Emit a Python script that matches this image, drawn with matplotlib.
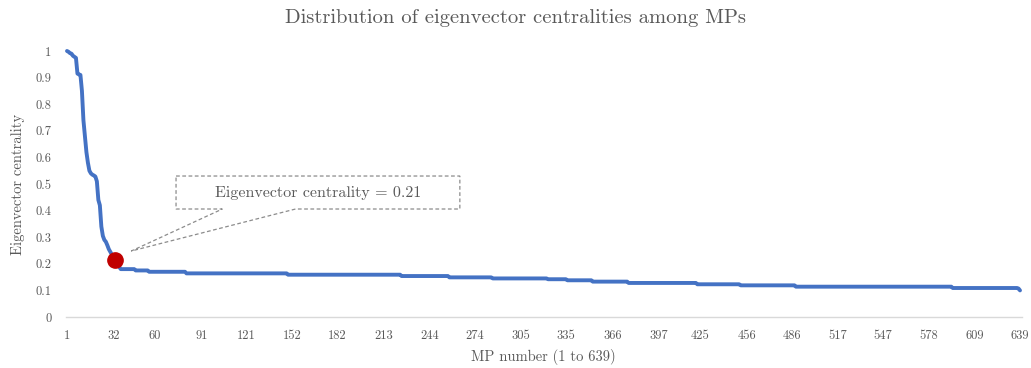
import matplotlib
matplotlib.use("Agg")
import matplotlib.pyplot as plt
import numpy as np
from matplotlib.patches import Polygon

# Eigenvector centrality of MPs sorted in descending order
top_values = [1.0, 0.997, 0.992, 0.99, 0.982, 0.978, 0.974, 0.915, 0.912, 0.91,
              0.85, 0.74, 0.68, 0.62, 0.58, 0.55, 0.54, 0.535, 0.532, 0.528,
              0.51, 0.44, 0.42, 0.34, 0.305, 0.29, 0.283, 0.27, 0.255, 0.245,
              0.235, 0.225, 0.214, 0.205, 0.195, 0.188]
# long flat tail: step levels and how many MPs sit on each step
tail_levels = [0.18, 0.175, 0.17, 0.164, 0.159, 0.154, 0.149, 0.145, 0.142,
               0.138, 0.133, 0.128, 0.123, 0.119, 0.114, 0.109, 0.107, 0.10]
tail_counts = [10, 9, 25, 68, 76, 32, 29, 37, 13, 17, 24, 46, 29, 37, 105, 44, 1, 1]

highlight_mp = 33
highlight_label = "Eigenvector centrality = 0.21"

x_ticks = [1, 32, 60, 91, 121, 152, 182, 213, 244, 274, 305, 335, 366, 397,
           425, 456, 486, 517, 547, 578, 609, 639]
y_ticks = [0, 0.1, 0.2, 0.3, 0.4, 0.5, 0.6, 0.7, 0.8, 0.9, 1]

centrality = np.concatenate([top_values, np.repeat(tail_levels, tail_counts)])
mp_number = np.arange(1, len(centrality) + 1)

font = ['cmr10', 'DejaVu Serif']
plt.rcParams['font.family'] = font
plt.rcParams['axes.formatter.use_mathtext'] = True
text_grey = '#595959'

W, H = 1031, 368
fig = plt.figure(figsize=(W / 100, H / 100), dpi=100)
ax = fig.add_axes([65.5 / W, 1 - 317 / H, (1021.5 - 65.5) / W, (317 - 51) / H])

ax.plot(mp_number, centrality, color='#4472C4', linewidth=2.8, clip_on=False,
        solid_capstyle='round', zorder=3)
ax.plot(highlight_mp, centrality[highlight_mp - 1], 'o', color='#C00000',
        markersize=11, clip_on=False, zorder=4)

# dashed callout box with pointer towards the highlighted MP
callout = Polygon([(74, 0.53), (264, 0.53), (264, 0.406), (154, 0.406),
                   (44, 0.248), (105, 0.406), (74, 0.406)],
                  closed=True, fill=False, edgecolor='#8C8C8C', linestyle=(0, (3, 2)),
                  linewidth=0.9, zorder=2)
ax.add_patch(callout)
ax.text(169, 0.468, highlight_label, ha='center', va='center', fontsize=11.5,
        color=text_grey, family=font)

ax.set_xlim(0, 640)
ax.set_ylim(0, 1)
ax.set_xticks(x_ticks)
ax.set_xticklabels([str(t) for t in x_ticks])
ax.set_yticks(y_ticks)
ax.set_yticklabels([f'{t:g}' for t in y_ticks])
ax.tick_params(length=0, labelsize=9, labelcolor=text_grey)
ax.tick_params(axis='x', pad=9)
ax.tick_params(axis='y', pad=10)

for side in ['top', 'right', 'left']:
    ax.spines[side].set_visible(False)
ax.spines['bottom'].set_color('#D9D9D9')
ax.spines['bottom'].set_linewidth(1.0)

fig.text(0.5, 1 - 18 / H, 'Distribution of eigenvector centralities among MPs',
         ha='center', va='center', fontsize=14.8, color=text_grey)
fig.text(543 / W, 1 - 357 / H, 'MP number (1 to 639)', ha='center', va='center',
         fontsize=10.5, color=text_grey)
fig.text(18 / W, 1 - 184 / H, 'Eigenvector centrality', ha='center', va='center',
         rotation=90, fontsize=10.5, color=text_grey)

fig.savefig('out.png', dpi=100)
